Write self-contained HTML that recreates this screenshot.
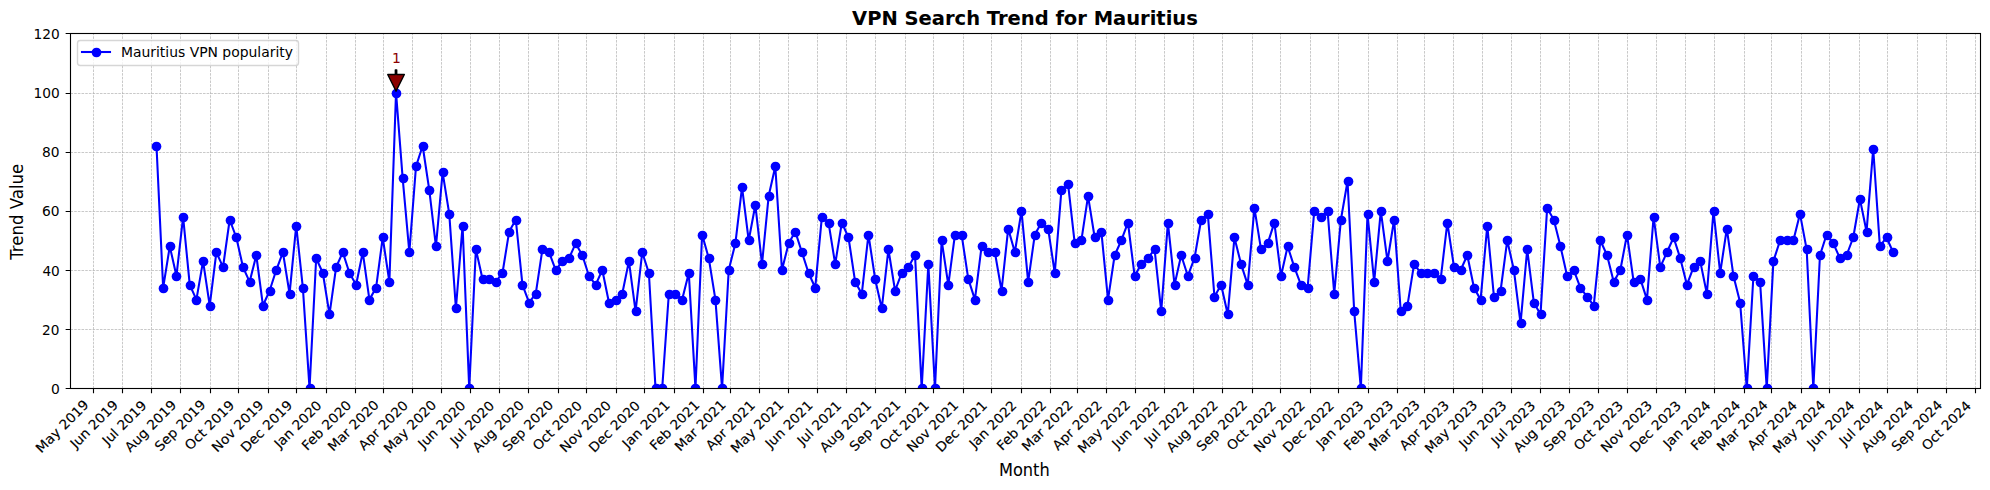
<!DOCTYPE html>
<html lang="en">
<head>
<meta charset="utf-8">
<title>VPN Search Trend for Mauritius</title>
<style>html,body{margin:0;padding:0;background:#ffffff;overflow:hidden}svg text{white-space:pre}</style>
</head>
<body>
<svg width="1990" height="490" viewBox="0 0 1990 490" style="display:block" font-family="'DejaVu Sans', 'Liberation Sans', sans-serif">
<rect x="0" y="0" width="1990" height="490" fill="#ffffff"/>
<defs><clipPath id="axclip"><rect x="69.65" y="33.33" width="1910.35" height="355.05"/></clipPath></defs>
<g clip-path="url(#axclip)" fill="none" stroke="#b0b0b0" stroke-width="0.69" stroke-dasharray="2.57,1.11">
<path d="M93.5 388.5V33.5M122.5 388.5V33.5M151.5 388.5V33.5M180.5 388.5V33.5M210.5 388.5V33.5M238.5 388.5V33.5M268.5 388.5V33.5M296.5 388.5V33.5M326.5 388.5V33.5M355.5 388.5V33.5M383.5 388.5V33.5M412.5 388.5V33.5M441.5 388.5V33.5M470.5 388.5V33.5M499.5 388.5V33.5M528.5 388.5V33.5M558.5 388.5V33.5M586.5 388.5V33.5M616.5 388.5V33.5M644.5 388.5V33.5M674.5 388.5V33.5M703.5 388.5V33.5M730.5 388.5V33.5M759.5 388.5V33.5M788.5 388.5V33.5M817.5 388.5V33.5M846.5 388.5V33.5M875.5 388.5V33.5M905.5 388.5V33.5M933.5 388.5V33.5M963.5 388.5V33.5M991.5 388.5V33.5M1021.5 388.5V33.5M1050.5 388.5V33.5M1077.5 388.5V33.5M1106.5 388.5V33.5M1135.5 388.5V33.5M1164.5 388.5V33.5M1193.5 388.5V33.5M1222.5 388.5V33.5M1252.5 388.5V33.5M1280.5 388.5V33.5M1310.5 388.5V33.5M1338.5 388.5V33.5M1368.5 388.5V33.5M1397.5 388.5V33.5M1424.5 388.5V33.5M1453.5 388.5V33.5M1482.5 388.5V33.5M1511.5 388.5V33.5M1540.5 388.5V33.5M1569.5 388.5V33.5M1598.5 388.5V33.5M1627.5 388.5V33.5M1656.5 388.5V33.5M1685.5 388.5V33.5M1714.5 388.5V33.5M1744.5 388.5V33.5M1771.5 388.5V33.5M1801.5 388.5V33.5M1829.5 388.5V33.5M1859.5 388.5V33.5M1887.5 388.5V33.5M1917.5 388.5V33.5M1946.5 388.5V33.5M1975.5 388.5V33.5" stroke-dashoffset="0"/>
<path d="M70.5 388.5H1980.5M70.5 329.5H1980.5M70.5 270.5H1980.5M70.5 211.5H1980.5M70.5 152.5H1980.5M70.5 93.5H1980.5M70.5 33.5H1980.5" stroke-dashoffset="0"/>
</g>
<path d="M93.5 388.5v4.86M122.5 388.5v4.86M151.5 388.5v4.86M180.5 388.5v4.86M210.5 388.5v4.86M238.5 388.5v4.86M268.5 388.5v4.86M296.5 388.5v4.86M326.5 388.5v4.86M355.5 388.5v4.86M383.5 388.5v4.86M412.5 388.5v4.86M441.5 388.5v4.86M470.5 388.5v4.86M499.5 388.5v4.86M528.5 388.5v4.86M558.5 388.5v4.86M586.5 388.5v4.86M616.5 388.5v4.86M644.5 388.5v4.86M674.5 388.5v4.86M703.5 388.5v4.86M730.5 388.5v4.86M759.5 388.5v4.86M788.5 388.5v4.86M817.5 388.5v4.86M846.5 388.5v4.86M875.5 388.5v4.86M905.5 388.5v4.86M933.5 388.5v4.86M963.5 388.5v4.86M991.5 388.5v4.86M1021.5 388.5v4.86M1050.5 388.5v4.86M1077.5 388.5v4.86M1106.5 388.5v4.86M1135.5 388.5v4.86M1164.5 388.5v4.86M1193.5 388.5v4.86M1222.5 388.5v4.86M1252.5 388.5v4.86M1280.5 388.5v4.86M1310.5 388.5v4.86M1338.5 388.5v4.86M1368.5 388.5v4.86M1397.5 388.5v4.86M1424.5 388.5v4.86M1453.5 388.5v4.86M1482.5 388.5v4.86M1511.5 388.5v4.86M1540.5 388.5v4.86M1569.5 388.5v4.86M1598.5 388.5v4.86M1627.5 388.5v4.86M1656.5 388.5v4.86M1685.5 388.5v4.86M1714.5 388.5v4.86M1744.5 388.5v4.86M1771.5 388.5v4.86M1801.5 388.5v4.86M1829.5 388.5v4.86M1859.5 388.5v4.86M1887.5 388.5v4.86M1917.5 388.5v4.86M1946.5 388.5v4.86M1975.5 388.5v4.86M70.5 388.5h-4.86M70.5 329.5h-4.86M70.5 270.5h-4.86M70.5 211.5h-4.86M70.5 152.5h-4.86M70.5 93.5h-4.86M70.5 33.5h-4.86" fill="none" stroke="#000000" stroke-width="1.11"/>
<g clip-path="url(#axclip)">
<path d="M156.49 145.77L163.14 287.79L169.79 246.36L176.45 275.95L183.1 216.78L189.76 284.83L196.41 299.62L203.06 261.16L209.72 305.54L216.37 252.28L223.03 267.08L229.68 219.74L236.33 237.49L242.99 267.08L249.64 281.87L256.3 255.24L262.95 305.54L269.6 290.75L276.26 270.04L282.91 252.28L289.57 293.71L296.22 225.65L302.87 287.79L309.53 388.39L316.18 258.2L322.84 272.99L329.49 314.42L336.14 267.08L342.8 252.28L349.45 272.99L356.11 284.83L362.76 252.28L369.41 299.62L376.07 287.79L382.72 237.49L389.37 281.87L396.03 92.51L402.68 178.31L409.34 252.28L415.99 166.48L422.64 145.77L429.3 190.15L435.95 246.36L442.61 172.4L449.26 213.82L455.91 308.5L462.57 225.65L469.22 388.39L475.88 249.32L482.53 278.91L489.18 278.91L495.84 281.87L502.49 272.99L509.15 231.57L515.8 219.74L522.45 284.83L529.11 302.58L535.76 293.71L542.42 249.32L549.07 252.28L555.72 270.04L562.38 261.16L569.03 258.2L575.69 243.41L582.34 255.24L588.99 275.95L595.65 284.83L602.3 270.04L608.95 302.58L615.61 299.62L622.26 293.71L628.92 261.16L635.57 311.46L642.22 252.28L648.88 272.99L655.53 388.39L662.19 388.39L668.84 293.71L675.49 293.71L682.15 299.62L688.8 272.99L695.46 388.39L702.11 234.53L708.76 258.2L715.42 299.62L722.07 388.39L728.73 270.04L735.38 243.41L742.03 187.19L748.69 240.45L755.34 204.94L762 264.12L768.65 196.07L775.3 166.48L781.96 270.04L788.61 243.41L795.27 231.57L801.92 252.28L808.57 272.99L815.23 287.79L821.88 216.78L828.54 222.69L835.19 264.12L841.84 222.69L848.5 237.49L855.15 281.87L861.8 293.71L868.46 234.53L875.11 278.91L881.77 308.5L888.42 249.32L895.07 290.75L901.73 272.99L908.38 267.08L915.04 255.24L921.69 388.39L928.34 264.12L935 388.39L941.65 240.45L948.31 284.83L954.96 234.53L961.61 234.53L968.27 278.91L974.92 299.62L981.58 246.36L988.23 252.28L994.88 252.28L1001.54 290.75L1008.19 228.61L1014.85 252.28L1021.5 210.86L1028.15 281.87L1034.81 234.53L1041.46 222.69L1048.12 228.61L1054.77 272.99L1061.42 190.15L1068.08 184.23L1074.73 243.41L1081.38 240.45L1088.04 196.07L1094.69 237.49L1101.35 231.57L1108 299.62L1114.65 255.24L1121.31 240.45L1127.96 222.69L1134.62 275.95L1141.27 264.12L1147.92 258.2L1154.58 249.32L1161.23 311.46L1167.89 222.69L1174.54 284.83L1181.19 255.24L1187.85 275.95L1194.5 258.2L1201.16 219.74L1207.81 213.82L1214.46 296.66L1221.12 284.83L1227.77 314.42L1234.43 237.49L1241.08 264.12L1247.73 284.83L1254.39 207.9L1261.04 249.32L1267.7 243.41L1274.35 222.69L1281 275.95L1287.66 246.36L1294.31 267.08L1300.97 284.83L1307.62 287.79L1314.27 210.86L1320.93 216.78L1327.58 210.86L1334.23 293.71L1340.89 219.74L1347.54 181.27L1354.2 311.46L1360.85 388.39L1367.5 213.82L1374.16 281.87L1380.81 210.86L1387.47 261.16L1394.12 219.74L1400.77 311.46L1407.43 305.54L1414.08 264.12L1420.74 272.99L1427.39 272.99L1434.04 272.99L1440.7 278.91L1447.35 222.69L1454.01 267.08L1460.66 270.04L1467.31 255.24L1473.97 287.79L1480.62 299.62L1487.28 225.65L1493.93 296.66L1500.58 290.75L1507.24 240.45L1513.89 270.04L1520.55 323.29L1527.2 249.32L1533.85 302.58L1540.51 314.42L1547.16 207.9L1553.81 219.74L1560.47 246.36L1567.12 275.95L1573.78 270.04L1580.43 287.79L1587.08 296.66L1593.74 305.54L1600.39 240.45L1607.05 255.24L1613.7 281.87L1620.35 270.04L1627.01 234.53L1633.66 281.87L1640.32 278.91L1646.97 299.62L1653.62 216.78L1660.28 267.08L1666.93 252.28L1673.59 237.49L1680.24 258.2L1686.89 284.83L1693.55 267.08L1700.2 261.16L1706.86 293.71L1713.51 210.86L1720.16 272.99L1726.82 228.61L1733.47 275.95L1740.13 302.58L1746.78 388.39L1753.43 275.95L1760.09 281.87L1766.74 388.39L1773.4 261.16L1780.05 240.45L1786.7 240.45L1793.36 240.45L1800.01 213.82L1806.66 249.32L1813.32 388.39L1819.97 255.24L1826.63 234.53L1833.28 243.41L1839.93 258.2L1846.59 255.24L1853.24 237.49L1859.9 199.02L1866.55 231.57L1873.2 148.73L1879.86 246.36L1886.51 237.49L1893.17 252.28" fill="none" stroke="#0000ff" stroke-width="2.08" stroke-linejoin="round" stroke-linecap="square"/>
<g fill="#0000ff">
<circle cx="156.5" cy="146.5" r="4.86"/>
<circle cx="163.5" cy="288.5" r="4.86"/>
<circle cx="170.5" cy="246.5" r="4.86"/>
<circle cx="176.5" cy="276.5" r="4.86"/>
<circle cx="183.5" cy="217.5" r="4.86"/>
<circle cx="190.5" cy="285.5" r="4.86"/>
<circle cx="196.5" cy="300.5" r="4.86"/>
<circle cx="203.5" cy="261.5" r="4.86"/>
<circle cx="210.5" cy="306.5" r="4.86"/>
<circle cx="216.5" cy="252.5" r="4.86"/>
<circle cx="223.5" cy="267.5" r="4.86"/>
<circle cx="230.5" cy="220.5" r="4.86"/>
<circle cx="236.5" cy="237.5" r="4.86"/>
<circle cx="243.5" cy="267.5" r="4.86"/>
<circle cx="250.5" cy="282.5" r="4.86"/>
<circle cx="256.5" cy="255.5" r="4.86"/>
<circle cx="263.5" cy="306.5" r="4.86"/>
<circle cx="270.5" cy="291.5" r="4.86"/>
<circle cx="276.5" cy="270.5" r="4.86"/>
<circle cx="283.5" cy="252.5" r="4.86"/>
<circle cx="290.5" cy="294.5" r="4.86"/>
<circle cx="296.5" cy="226.5" r="4.86"/>
<circle cx="303.5" cy="288.5" r="4.86"/>
<circle cx="310.5" cy="388.5" r="4.86"/>
<circle cx="316.5" cy="258.5" r="4.86"/>
<circle cx="323.5" cy="273.5" r="4.86"/>
<circle cx="329.5" cy="314.5" r="4.86"/>
<circle cx="336.5" cy="267.5" r="4.86"/>
<circle cx="343.5" cy="252.5" r="4.86"/>
<circle cx="349.5" cy="273.5" r="4.86"/>
<circle cx="356.5" cy="285.5" r="4.86"/>
<circle cx="363.5" cy="252.5" r="4.86"/>
<circle cx="369.5" cy="300.5" r="4.86"/>
<circle cx="376.5" cy="288.5" r="4.86"/>
<circle cx="383.5" cy="237.5" r="4.86"/>
<circle cx="389.5" cy="282.5" r="4.86"/>
<circle cx="396.5" cy="93.5" r="4.86"/>
<circle cx="403.5" cy="178.5" r="4.86"/>
<circle cx="409.5" cy="252.5" r="4.86"/>
<circle cx="416.5" cy="166.5" r="4.86"/>
<circle cx="423.5" cy="146.5" r="4.86"/>
<circle cx="429.5" cy="190.5" r="4.86"/>
<circle cx="436.5" cy="246.5" r="4.86"/>
<circle cx="443.5" cy="172.5" r="4.86"/>
<circle cx="449.5" cy="214.5" r="4.86"/>
<circle cx="456.5" cy="308.5" r="4.86"/>
<circle cx="463.5" cy="226.5" r="4.86"/>
<circle cx="469.5" cy="388.5" r="4.86"/>
<circle cx="476.5" cy="249.5" r="4.86"/>
<circle cx="483.5" cy="279.5" r="4.86"/>
<circle cx="489.5" cy="279.5" r="4.86"/>
<circle cx="496.5" cy="282.5" r="4.86"/>
<circle cx="502.5" cy="273.5" r="4.86"/>
<circle cx="509.5" cy="232.5" r="4.86"/>
<circle cx="516.5" cy="220.5" r="4.86"/>
<circle cx="522.5" cy="285.5" r="4.86"/>
<circle cx="529.5" cy="303.5" r="4.86"/>
<circle cx="536.5" cy="294.5" r="4.86"/>
<circle cx="542.5" cy="249.5" r="4.86"/>
<circle cx="549.5" cy="252.5" r="4.86"/>
<circle cx="556.5" cy="270.5" r="4.86"/>
<circle cx="562.5" cy="261.5" r="4.86"/>
<circle cx="569.5" cy="258.5" r="4.86"/>
<circle cx="576.5" cy="243.5" r="4.86"/>
<circle cx="582.5" cy="255.5" r="4.86"/>
<circle cx="589.5" cy="276.5" r="4.86"/>
<circle cx="596.5" cy="285.5" r="4.86"/>
<circle cx="602.5" cy="270.5" r="4.86"/>
<circle cx="609.5" cy="303.5" r="4.86"/>
<circle cx="616.5" cy="300.5" r="4.86"/>
<circle cx="622.5" cy="294.5" r="4.86"/>
<circle cx="629.5" cy="261.5" r="4.86"/>
<circle cx="636.5" cy="311.5" r="4.86"/>
<circle cx="642.5" cy="252.5" r="4.86"/>
<circle cx="649.5" cy="273.5" r="4.86"/>
<circle cx="656.5" cy="388.5" r="4.86"/>
<circle cx="662.5" cy="388.5" r="4.86"/>
<circle cx="669.5" cy="294.5" r="4.86"/>
<circle cx="675.5" cy="294.5" r="4.86"/>
<circle cx="682.5" cy="300.5" r="4.86"/>
<circle cx="689.5" cy="273.5" r="4.86"/>
<circle cx="695.5" cy="388.5" r="4.86"/>
<circle cx="702.5" cy="235.5" r="4.86"/>
<circle cx="709.5" cy="258.5" r="4.86"/>
<circle cx="715.5" cy="300.5" r="4.86"/>
<circle cx="722.5" cy="388.5" r="4.86"/>
<circle cx="729.5" cy="270.5" r="4.86"/>
<circle cx="735.5" cy="243.5" r="4.86"/>
<circle cx="742.5" cy="187.5" r="4.86"/>
<circle cx="749.5" cy="240.5" r="4.86"/>
<circle cx="755.5" cy="205.5" r="4.86"/>
<circle cx="762.5" cy="264.5" r="4.86"/>
<circle cx="769.5" cy="196.5" r="4.86"/>
<circle cx="775.5" cy="166.5" r="4.86"/>
<circle cx="782.5" cy="270.5" r="4.86"/>
<circle cx="789.5" cy="243.5" r="4.86"/>
<circle cx="795.5" cy="232.5" r="4.86"/>
<circle cx="802.5" cy="252.5" r="4.86"/>
<circle cx="809.5" cy="273.5" r="4.86"/>
<circle cx="815.5" cy="288.5" r="4.86"/>
<circle cx="822.5" cy="217.5" r="4.86"/>
<circle cx="829.5" cy="223.5" r="4.86"/>
<circle cx="835.5" cy="264.5" r="4.86"/>
<circle cx="842.5" cy="223.5" r="4.86"/>
<circle cx="848.5" cy="237.5" r="4.86"/>
<circle cx="855.5" cy="282.5" r="4.86"/>
<circle cx="862.5" cy="294.5" r="4.86"/>
<circle cx="868.5" cy="235.5" r="4.86"/>
<circle cx="875.5" cy="279.5" r="4.86"/>
<circle cx="882.5" cy="308.5" r="4.86"/>
<circle cx="888.5" cy="249.5" r="4.86"/>
<circle cx="895.5" cy="291.5" r="4.86"/>
<circle cx="902.5" cy="273.5" r="4.86"/>
<circle cx="908.5" cy="267.5" r="4.86"/>
<circle cx="915.5" cy="255.5" r="4.86"/>
<circle cx="922.5" cy="388.5" r="4.86"/>
<circle cx="928.5" cy="264.5" r="4.86"/>
<circle cx="935.5" cy="388.5" r="4.86"/>
<circle cx="942.5" cy="240.5" r="4.86"/>
<circle cx="948.5" cy="285.5" r="4.86"/>
<circle cx="955.5" cy="235.5" r="4.86"/>
<circle cx="962.5" cy="235.5" r="4.86"/>
<circle cx="968.5" cy="279.5" r="4.86"/>
<circle cx="975.5" cy="300.5" r="4.86"/>
<circle cx="982.5" cy="246.5" r="4.86"/>
<circle cx="988.5" cy="252.5" r="4.86"/>
<circle cx="995.5" cy="252.5" r="4.86"/>
<circle cx="1002.5" cy="291.5" r="4.86"/>
<circle cx="1008.5" cy="229.5" r="4.86"/>
<circle cx="1015.5" cy="252.5" r="4.86"/>
<circle cx="1021.5" cy="211.5" r="4.86"/>
<circle cx="1028.5" cy="282.5" r="4.86"/>
<circle cx="1035.5" cy="235.5" r="4.86"/>
<circle cx="1041.5" cy="223.5" r="4.86"/>
<circle cx="1048.5" cy="229.5" r="4.86"/>
<circle cx="1055.5" cy="273.5" r="4.86"/>
<circle cx="1061.5" cy="190.5" r="4.86"/>
<circle cx="1068.5" cy="184.5" r="4.86"/>
<circle cx="1075.5" cy="243.5" r="4.86"/>
<circle cx="1081.5" cy="240.5" r="4.86"/>
<circle cx="1088.5" cy="196.5" r="4.86"/>
<circle cx="1095.5" cy="237.5" r="4.86"/>
<circle cx="1101.5" cy="232.5" r="4.86"/>
<circle cx="1108.5" cy="300.5" r="4.86"/>
<circle cx="1115.5" cy="255.5" r="4.86"/>
<circle cx="1121.5" cy="240.5" r="4.86"/>
<circle cx="1128.5" cy="223.5" r="4.86"/>
<circle cx="1135.5" cy="276.5" r="4.86"/>
<circle cx="1141.5" cy="264.5" r="4.86"/>
<circle cx="1148.5" cy="258.5" r="4.86"/>
<circle cx="1155.5" cy="249.5" r="4.86"/>
<circle cx="1161.5" cy="311.5" r="4.86"/>
<circle cx="1168.5" cy="223.5" r="4.86"/>
<circle cx="1175.5" cy="285.5" r="4.86"/>
<circle cx="1181.5" cy="255.5" r="4.86"/>
<circle cx="1188.5" cy="276.5" r="4.86"/>
<circle cx="1195.5" cy="258.5" r="4.86"/>
<circle cx="1201.5" cy="220.5" r="4.86"/>
<circle cx="1208.5" cy="214.5" r="4.86"/>
<circle cx="1214.5" cy="297.5" r="4.86"/>
<circle cx="1221.5" cy="285.5" r="4.86"/>
<circle cx="1228.5" cy="314.5" r="4.86"/>
<circle cx="1234.5" cy="237.5" r="4.86"/>
<circle cx="1241.5" cy="264.5" r="4.86"/>
<circle cx="1248.5" cy="285.5" r="4.86"/>
<circle cx="1254.5" cy="208.5" r="4.86"/>
<circle cx="1261.5" cy="249.5" r="4.86"/>
<circle cx="1268.5" cy="243.5" r="4.86"/>
<circle cx="1274.5" cy="223.5" r="4.86"/>
<circle cx="1281.5" cy="276.5" r="4.86"/>
<circle cx="1288.5" cy="246.5" r="4.86"/>
<circle cx="1294.5" cy="267.5" r="4.86"/>
<circle cx="1301.5" cy="285.5" r="4.86"/>
<circle cx="1308.5" cy="288.5" r="4.86"/>
<circle cx="1314.5" cy="211.5" r="4.86"/>
<circle cx="1321.5" cy="217.5" r="4.86"/>
<circle cx="1328.5" cy="211.5" r="4.86"/>
<circle cx="1334.5" cy="294.5" r="4.86"/>
<circle cx="1341.5" cy="220.5" r="4.86"/>
<circle cx="1348.5" cy="181.5" r="4.86"/>
<circle cx="1354.5" cy="311.5" r="4.86"/>
<circle cx="1361.5" cy="388.5" r="4.86"/>
<circle cx="1368.5" cy="214.5" r="4.86"/>
<circle cx="1374.5" cy="282.5" r="4.86"/>
<circle cx="1381.5" cy="211.5" r="4.86"/>
<circle cx="1387.5" cy="261.5" r="4.86"/>
<circle cx="1394.5" cy="220.5" r="4.86"/>
<circle cx="1401.5" cy="311.5" r="4.86"/>
<circle cx="1407.5" cy="306.5" r="4.86"/>
<circle cx="1414.5" cy="264.5" r="4.86"/>
<circle cx="1421.5" cy="273.5" r="4.86"/>
<circle cx="1427.5" cy="273.5" r="4.86"/>
<circle cx="1434.5" cy="273.5" r="4.86"/>
<circle cx="1441.5" cy="279.5" r="4.86"/>
<circle cx="1447.5" cy="223.5" r="4.86"/>
<circle cx="1454.5" cy="267.5" r="4.86"/>
<circle cx="1461.5" cy="270.5" r="4.86"/>
<circle cx="1467.5" cy="255.5" r="4.86"/>
<circle cx="1474.5" cy="288.5" r="4.86"/>
<circle cx="1481.5" cy="300.5" r="4.86"/>
<circle cx="1487.5" cy="226.5" r="4.86"/>
<circle cx="1494.5" cy="297.5" r="4.86"/>
<circle cx="1501.5" cy="291.5" r="4.86"/>
<circle cx="1507.5" cy="240.5" r="4.86"/>
<circle cx="1514.5" cy="270.5" r="4.86"/>
<circle cx="1521.5" cy="323.5" r="4.86"/>
<circle cx="1527.5" cy="249.5" r="4.86"/>
<circle cx="1534.5" cy="303.5" r="4.86"/>
<circle cx="1541.5" cy="314.5" r="4.86"/>
<circle cx="1547.5" cy="208.5" r="4.86"/>
<circle cx="1554.5" cy="220.5" r="4.86"/>
<circle cx="1560.5" cy="246.5" r="4.86"/>
<circle cx="1567.5" cy="276.5" r="4.86"/>
<circle cx="1574.5" cy="270.5" r="4.86"/>
<circle cx="1580.5" cy="288.5" r="4.86"/>
<circle cx="1587.5" cy="297.5" r="4.86"/>
<circle cx="1594.5" cy="306.5" r="4.86"/>
<circle cx="1600.5" cy="240.5" r="4.86"/>
<circle cx="1607.5" cy="255.5" r="4.86"/>
<circle cx="1614.5" cy="282.5" r="4.86"/>
<circle cx="1620.5" cy="270.5" r="4.86"/>
<circle cx="1627.5" cy="235.5" r="4.86"/>
<circle cx="1634.5" cy="282.5" r="4.86"/>
<circle cx="1640.5" cy="279.5" r="4.86"/>
<circle cx="1647.5" cy="300.5" r="4.86"/>
<circle cx="1654.5" cy="217.5" r="4.86"/>
<circle cx="1660.5" cy="267.5" r="4.86"/>
<circle cx="1667.5" cy="252.5" r="4.86"/>
<circle cx="1674.5" cy="237.5" r="4.86"/>
<circle cx="1680.5" cy="258.5" r="4.86"/>
<circle cx="1687.5" cy="285.5" r="4.86"/>
<circle cx="1694.5" cy="267.5" r="4.86"/>
<circle cx="1700.5" cy="261.5" r="4.86"/>
<circle cx="1707.5" cy="294.5" r="4.86"/>
<circle cx="1714.5" cy="211.5" r="4.86"/>
<circle cx="1720.5" cy="273.5" r="4.86"/>
<circle cx="1727.5" cy="229.5" r="4.86"/>
<circle cx="1733.5" cy="276.5" r="4.86"/>
<circle cx="1740.5" cy="303.5" r="4.86"/>
<circle cx="1747.5" cy="388.5" r="4.86"/>
<circle cx="1753.5" cy="276.5" r="4.86"/>
<circle cx="1760.5" cy="282.5" r="4.86"/>
<circle cx="1767.5" cy="388.5" r="4.86"/>
<circle cx="1773.5" cy="261.5" r="4.86"/>
<circle cx="1780.5" cy="240.5" r="4.86"/>
<circle cx="1787.5" cy="240.5" r="4.86"/>
<circle cx="1793.5" cy="240.5" r="4.86"/>
<circle cx="1800.5" cy="214.5" r="4.86"/>
<circle cx="1807.5" cy="249.5" r="4.86"/>
<circle cx="1813.5" cy="388.5" r="4.86"/>
<circle cx="1820.5" cy="255.5" r="4.86"/>
<circle cx="1827.5" cy="235.5" r="4.86"/>
<circle cx="1833.5" cy="243.5" r="4.86"/>
<circle cx="1840.5" cy="258.5" r="4.86"/>
<circle cx="1847.5" cy="255.5" r="4.86"/>
<circle cx="1853.5" cy="237.5" r="4.86"/>
<circle cx="1860.5" cy="199.5" r="4.86"/>
<circle cx="1867.5" cy="232.5" r="4.86"/>
<circle cx="1873.5" cy="149.5" r="4.86"/>
<circle cx="1880.5" cy="246.5" r="4.86"/>
<circle cx="1887.5" cy="237.5" r="4.86"/>
<circle cx="1893.5" cy="252.5" r="4.86"/>
</g></g>
<rect x="70.5" y="33.5" width="1910" height="355" fill="none" stroke="#000000" stroke-width="1.11"/>
<path d="M396.72 69.93Q396.72 72.21 396.72 74.5L404.36 74.5Q400.2 82.83 396.03 91.17Q391.86 82.83 387.7 74.5L395.33 74.5Q395.33 72.21 395.33 69.93L396.72 69.93z" fill="#8b0000" stroke="#000000" stroke-width="1.39" stroke-linejoin="round" stroke-linecap="round"/>
<rect x="77.5" y="40.5" width="221" height="25" rx="2.78" fill="#ffffff" fill-opacity="0.8" stroke="#cccccc" stroke-opacity="0.8" stroke-width="1.39"/>
<path d="M82 52H110" fill="none" stroke="#0000ff" stroke-width="2.08" stroke-linecap="square"/>
<circle cx="96.5" cy="52.5" r="4.86" fill="#0000ff"/>
<text transform="translate(41.32 453.75) rotate(-45) scale(1 0.96)" font-size="13.89" stroke="#000000" stroke-width="0.15" textLength="68.29" lengthAdjust="spacingAndGlyphs">May 2019</text>
<text transform="translate(75.76 449) rotate(-45) scale(1 0.96)" font-size="13.89" stroke="#000000" stroke-width="0.15" textLength="60.94" lengthAdjust="spacingAndGlyphs">Jun 2019</text>
<text transform="translate(107.8 445.95) rotate(-45) scale(1 0.96)" font-size="13.89" stroke="#000000" stroke-width="0.15" textLength="56.08" lengthAdjust="spacingAndGlyphs">Jul 2019</text>
<text transform="translate(130.21 452.86) rotate(-45) scale(1 0.96)" font-size="13.89" stroke="#000000" stroke-width="0.15" textLength="66.55" lengthAdjust="spacingAndGlyphs">Aug 2019</text>
<text transform="translate(160.17 451.9) rotate(-45) scale(1 0.96)" font-size="13.89" stroke="#000000" stroke-width="0.15" textLength="65.55" lengthAdjust="spacingAndGlyphs">Sep 2019</text>
<text transform="translate(190.32 450.99) rotate(-45) scale(1 0.96)" font-size="13.89" stroke="#000000" stroke-width="0.15" textLength="63.43" lengthAdjust="spacingAndGlyphs">Oct 2019</text>
<text transform="translate(217.34 452.97) rotate(-45) scale(1 0.96)" font-size="13.89" stroke="#000000" stroke-width="0.15" textLength="66.55" lengthAdjust="spacingAndGlyphs">Nov 2019</text>
<text transform="translate(246.33 452.98) rotate(-45) scale(1 0.96)" font-size="13.89" stroke="#000000" stroke-width="0.15" textLength="66.3" lengthAdjust="spacingAndGlyphs">Dec 2019</text>
<text transform="translate(279.7 449.06) rotate(-45) scale(1 0.96)" font-size="13.89" stroke="#000000" stroke-width="0.15" textLength="60.57" lengthAdjust="spacingAndGlyphs">Jan 2020</text>
<text transform="translate(307.18 451.13) rotate(-45) scale(1 0.96)" font-size="13.89" stroke="#000000" stroke-width="0.15" textLength="63.81" lengthAdjust="spacingAndGlyphs">Feb 2020</text>
<text transform="translate(333.28 452.04) rotate(-45) scale(1 0.96)" font-size="13.89" stroke="#000000" stroke-width="0.15" textLength="65.55" lengthAdjust="spacingAndGlyphs">Mar 2020</text>
<text transform="translate(364.1 450.97) rotate(-45) scale(1 0.96)" font-size="13.89" stroke="#000000" stroke-width="0.15" textLength="63.31" lengthAdjust="spacingAndGlyphs">Apr 2020</text>
<text transform="translate(389.15 453.92) rotate(-45) scale(1 0.96)" font-size="13.89" stroke="#000000" stroke-width="0.15" textLength="68.05" lengthAdjust="spacingAndGlyphs">May 2020</text>
<text transform="translate(423.58 449.18) rotate(-45) scale(1 0.96)" font-size="13.89" stroke="#000000" stroke-width="0.15" textLength="60.69" lengthAdjust="spacingAndGlyphs">Jun 2020</text>
<text transform="translate(455.63 446.13) rotate(-45) scale(1 0.96)" font-size="13.89" stroke="#000000" stroke-width="0.15" textLength="55.83" lengthAdjust="spacingAndGlyphs">Jul 2020</text>
<text transform="translate(478.04 453.03) rotate(-45) scale(1 0.96)" font-size="13.89" stroke="#000000" stroke-width="0.15" textLength="66.3" lengthAdjust="spacingAndGlyphs">Aug 2020</text>
<text transform="translate(508 452.08) rotate(-45) scale(1 0.96)" font-size="13.89" stroke="#000000" stroke-width="0.15" textLength="65.3" lengthAdjust="spacingAndGlyphs">Sep 2020</text>
<text transform="translate(538.15 451.17) rotate(-45) scale(1 0.96)" font-size="13.89" stroke="#000000" stroke-width="0.15" textLength="63.18" lengthAdjust="spacingAndGlyphs">Oct 2020</text>
<text transform="translate(565.17 453.15) rotate(-45) scale(1 0.96)" font-size="13.89" stroke="#000000" stroke-width="0.15" textLength="66.3" lengthAdjust="spacingAndGlyphs">Nov 2020</text>
<text transform="translate(594.15 453.16) rotate(-45) scale(1 0.96)" font-size="13.89" stroke="#000000" stroke-width="0.15" textLength="66.05" lengthAdjust="spacingAndGlyphs">Dec 2020</text>
<text transform="translate(627.79 448.97) rotate(-45) scale(1 0.96)" font-size="13.89" stroke="#000000" stroke-width="0.15" textLength="60.69" lengthAdjust="spacingAndGlyphs">Jan 2021</text>
<text transform="translate(655.27 451.04) rotate(-45) scale(1 0.96)" font-size="13.89" stroke="#000000" stroke-width="0.15" textLength="63.93" lengthAdjust="spacingAndGlyphs">Feb 2021</text>
<text transform="translate(680.36 451.95) rotate(-45) scale(1 0.96)" font-size="13.89" stroke="#000000" stroke-width="0.15" textLength="65.68" lengthAdjust="spacingAndGlyphs">Mar 2021</text>
<text transform="translate(711.19 450.88) rotate(-45) scale(1 0.96)" font-size="13.89" stroke="#000000" stroke-width="0.15" textLength="63.43" lengthAdjust="spacingAndGlyphs">Apr 2021</text>
<text transform="translate(736.24 453.83) rotate(-45) scale(1 0.96)" font-size="13.89" stroke="#000000" stroke-width="0.15" textLength="68.17" lengthAdjust="spacingAndGlyphs">May 2021</text>
<text transform="translate(770.67 449.09) rotate(-45) scale(1 0.96)" font-size="13.89" stroke="#000000" stroke-width="0.15" textLength="60.82" lengthAdjust="spacingAndGlyphs">Jun 2021</text>
<text transform="translate(802.72 446.04) rotate(-45) scale(1 0.96)" font-size="13.89" stroke="#000000" stroke-width="0.15" textLength="55.96" lengthAdjust="spacingAndGlyphs">Jul 2021</text>
<text transform="translate(825.13 452.94) rotate(-45) scale(1 0.96)" font-size="13.89" stroke="#000000" stroke-width="0.15" textLength="66.43" lengthAdjust="spacingAndGlyphs">Aug 2021</text>
<text transform="translate(855.08 451.99) rotate(-45) scale(1 0.96)" font-size="13.89" stroke="#000000" stroke-width="0.15" textLength="65.43" lengthAdjust="spacingAndGlyphs">Sep 2021</text>
<text transform="translate(885.23 451.08) rotate(-45) scale(1 0.96)" font-size="13.89" stroke="#000000" stroke-width="0.15" textLength="63.31" lengthAdjust="spacingAndGlyphs">Oct 2021</text>
<text transform="translate(912.26 453.06) rotate(-45) scale(1 0.96)" font-size="13.89" stroke="#000000" stroke-width="0.15" textLength="66.43" lengthAdjust="spacingAndGlyphs">Nov 2021</text>
<text transform="translate(941.24 453.07) rotate(-45) scale(1 0.96)" font-size="13.89" stroke="#000000" stroke-width="0.15" textLength="66.18" lengthAdjust="spacingAndGlyphs">Dec 2021</text>
<text transform="translate(974.7 449.06) rotate(-45) scale(1 0.96)" font-size="13.89" stroke="#000000" stroke-width="0.15" textLength="60.57" lengthAdjust="spacingAndGlyphs">Jan 2022</text>
<text transform="translate(1002.18 451.13) rotate(-45) scale(1 0.96)" font-size="13.89" stroke="#000000" stroke-width="0.15" textLength="63.81" lengthAdjust="spacingAndGlyphs">Feb 2022</text>
<text transform="translate(1027.28 452.04) rotate(-45) scale(1 0.96)" font-size="13.89" stroke="#000000" stroke-width="0.15" textLength="65.55" lengthAdjust="spacingAndGlyphs">Mar 2022</text>
<text transform="translate(1058.1 450.97) rotate(-45) scale(1 0.96)" font-size="13.89" stroke="#000000" stroke-width="0.15" textLength="63.31" lengthAdjust="spacingAndGlyphs">Apr 2022</text>
<text transform="translate(1083.15 453.92) rotate(-45) scale(1 0.96)" font-size="13.89" stroke="#000000" stroke-width="0.15" textLength="68.05" lengthAdjust="spacingAndGlyphs">May 2022</text>
<text transform="translate(1117.58 449.18) rotate(-45) scale(1 0.96)" font-size="13.89" stroke="#000000" stroke-width="0.15" textLength="60.69" lengthAdjust="spacingAndGlyphs">Jun 2022</text>
<text transform="translate(1149.63 446.13) rotate(-45) scale(1 0.96)" font-size="13.89" stroke="#000000" stroke-width="0.15" textLength="55.83" lengthAdjust="spacingAndGlyphs">Jul 2022</text>
<text transform="translate(1172.04 453.03) rotate(-45) scale(1 0.96)" font-size="13.89" stroke="#000000" stroke-width="0.15" textLength="66.3" lengthAdjust="spacingAndGlyphs">Aug 2022</text>
<text transform="translate(1202 452.08) rotate(-45) scale(1 0.96)" font-size="13.89" stroke="#000000" stroke-width="0.15" textLength="65.3" lengthAdjust="spacingAndGlyphs">Sep 2022</text>
<text transform="translate(1232.15 451.17) rotate(-45) scale(1 0.96)" font-size="13.89" stroke="#000000" stroke-width="0.15" textLength="63.18" lengthAdjust="spacingAndGlyphs">Oct 2022</text>
<text transform="translate(1259.17 453.15) rotate(-45) scale(1 0.96)" font-size="13.89" stroke="#000000" stroke-width="0.15" textLength="66.3" lengthAdjust="spacingAndGlyphs">Nov 2022</text>
<text transform="translate(1288.15 453.16) rotate(-45) scale(1 0.96)" font-size="13.89" stroke="#000000" stroke-width="0.15" textLength="66.05" lengthAdjust="spacingAndGlyphs">Dec 2022</text>
<text transform="translate(1321.7 449.06) rotate(-45) scale(1 0.96)" font-size="13.89" stroke="#000000" stroke-width="0.15" textLength="60.57" lengthAdjust="spacingAndGlyphs">Jan 2023</text>
<text transform="translate(1349.18 451.13) rotate(-45) scale(1 0.96)" font-size="13.89" stroke="#000000" stroke-width="0.15" textLength="63.81" lengthAdjust="spacingAndGlyphs">Feb 2023</text>
<text transform="translate(1374.28 452.04) rotate(-45) scale(1 0.96)" font-size="13.89" stroke="#000000" stroke-width="0.15" textLength="65.55" lengthAdjust="spacingAndGlyphs">Mar 2023</text>
<text transform="translate(1405.1 450.97) rotate(-45) scale(1 0.96)" font-size="13.89" stroke="#000000" stroke-width="0.15" textLength="63.31" lengthAdjust="spacingAndGlyphs">Apr 2023</text>
<text transform="translate(1430.15 453.92) rotate(-45) scale(1 0.96)" font-size="13.89" stroke="#000000" stroke-width="0.15" textLength="68.05" lengthAdjust="spacingAndGlyphs">May 2023</text>
<text transform="translate(1464.58 449.18) rotate(-45) scale(1 0.96)" font-size="13.89" stroke="#000000" stroke-width="0.15" textLength="60.69" lengthAdjust="spacingAndGlyphs">Jun 2023</text>
<text transform="translate(1496.63 446.13) rotate(-45) scale(1 0.96)" font-size="13.89" stroke="#000000" stroke-width="0.15" textLength="55.83" lengthAdjust="spacingAndGlyphs">Jul 2023</text>
<text transform="translate(1519.04 453.03) rotate(-45) scale(1 0.96)" font-size="13.89" stroke="#000000" stroke-width="0.15" textLength="66.3" lengthAdjust="spacingAndGlyphs">Aug 2023</text>
<text transform="translate(1549 452.08) rotate(-45) scale(1 0.96)" font-size="13.89" stroke="#000000" stroke-width="0.15" textLength="65.3" lengthAdjust="spacingAndGlyphs">Sep 2023</text>
<text transform="translate(1579.15 451.17) rotate(-45) scale(1 0.96)" font-size="13.89" stroke="#000000" stroke-width="0.15" textLength="63.18" lengthAdjust="spacingAndGlyphs">Oct 2023</text>
<text transform="translate(1606.17 453.15) rotate(-45) scale(1 0.96)" font-size="13.89" stroke="#000000" stroke-width="0.15" textLength="66.3" lengthAdjust="spacingAndGlyphs">Nov 2023</text>
<text transform="translate(1635.15 453.16) rotate(-45) scale(1 0.96)" font-size="13.89" stroke="#000000" stroke-width="0.15" textLength="66.05" lengthAdjust="spacingAndGlyphs">Dec 2023</text>
<text transform="translate(1668.7 449.06) rotate(-45) scale(1 0.96)" font-size="13.89" stroke="#000000" stroke-width="0.15" textLength="60.57" lengthAdjust="spacingAndGlyphs">Jan 2024</text>
<text transform="translate(1696.18 451.13) rotate(-45) scale(1 0.96)" font-size="13.89" stroke="#000000" stroke-width="0.15" textLength="63.81" lengthAdjust="spacingAndGlyphs">Feb 2024</text>
<text transform="translate(1722.28 452.04) rotate(-45) scale(1 0.96)" font-size="13.89" stroke="#000000" stroke-width="0.15" textLength="65.55" lengthAdjust="spacingAndGlyphs">Mar 2024</text>
<text transform="translate(1753.1 450.97) rotate(-45) scale(1 0.96)" font-size="13.89" stroke="#000000" stroke-width="0.15" textLength="63.31" lengthAdjust="spacingAndGlyphs">Apr 2024</text>
<text transform="translate(1778.15 453.92) rotate(-45) scale(1 0.96)" font-size="13.89" stroke="#000000" stroke-width="0.15" textLength="68.05" lengthAdjust="spacingAndGlyphs">May 2024</text>
<text transform="translate(1812.58 449.18) rotate(-45) scale(1 0.96)" font-size="13.89" stroke="#000000" stroke-width="0.15" textLength="60.69" lengthAdjust="spacingAndGlyphs">Jun 2024</text>
<text transform="translate(1844.63 446.13) rotate(-45) scale(1 0.96)" font-size="13.89" stroke="#000000" stroke-width="0.15" textLength="55.83" lengthAdjust="spacingAndGlyphs">Jul 2024</text>
<text transform="translate(1867.04 453.03) rotate(-45) scale(1 0.96)" font-size="13.89" stroke="#000000" stroke-width="0.15" textLength="66.3" lengthAdjust="spacingAndGlyphs">Aug 2024</text>
<text transform="translate(1897 452.08) rotate(-45) scale(1 0.96)" font-size="13.89" stroke="#000000" stroke-width="0.15" textLength="65.3" lengthAdjust="spacingAndGlyphs">Sep 2024</text>
<text transform="translate(1927.15 451.17) rotate(-45) scale(1 0.96)" font-size="13.89" stroke="#000000" stroke-width="0.15" textLength="63.18" lengthAdjust="spacingAndGlyphs">Oct 2024</text>
<text transform="translate(1024.33 476) scale(1 1.06)" font-size="16.67" stroke="#000000" stroke-width="0.05" text-anchor="middle" textLength="50.8" lengthAdjust="spacingAndGlyphs">Month</text>
<text transform="translate(59.88 393.98) scale(1 0.99)" font-size="13.89" text-anchor="end">0</text>
<text transform="translate(59.5 334.98) scale(1 0.99)" font-size="13.89" text-anchor="end" textLength="17.41" lengthAdjust="spacingAndGlyphs">20</text>
<text transform="translate(59.81 275.98) scale(1 0.99)" font-size="13.89" text-anchor="end" textLength="17.41" lengthAdjust="spacingAndGlyphs">40</text>
<text transform="translate(59.63 215.98) scale(1 0.99)" font-size="13.89" text-anchor="end" textLength="17.54" lengthAdjust="spacingAndGlyphs">60</text>
<text transform="translate(59.63 156.98) scale(1 0.99)" font-size="13.89" text-anchor="end" textLength="17.54" lengthAdjust="spacingAndGlyphs">80</text>
<text transform="translate(59.81 97.98) scale(1 0.99)" font-size="13.89" text-anchor="end" textLength="26.24" lengthAdjust="spacingAndGlyphs">100</text>
<text transform="translate(59.81 38.98) scale(1 0.99)" font-size="13.89" text-anchor="end" textLength="26.24" lengthAdjust="spacingAndGlyphs">120</text>
<text transform="translate(22.9 211.81) rotate(-90) scale(1 1.11)" font-size="16.67" text-anchor="middle" textLength="95.99" lengthAdjust="spacingAndGlyphs">Trend Value</text>
<text transform="translate(396.48 63) scale(1 1.07)" font-size="13.89" fill="#8b0000" text-anchor="middle">1</text>
<text transform="translate(1024.97 25) scale(1 1.03)" font-size="19.44" font-weight="bold" stroke="#000000" stroke-width="0.05" text-anchor="middle" textLength="345.75" lengthAdjust="spacingAndGlyphs">VPN Search Trend for Mauritius</text>
<text transform="translate(120.9 57.05) scale(1 1.04)" font-size="13.89" textLength="172.12" lengthAdjust="spacingAndGlyphs">Mauritius VPN popularity</text>
</svg>
</body>
</html>
